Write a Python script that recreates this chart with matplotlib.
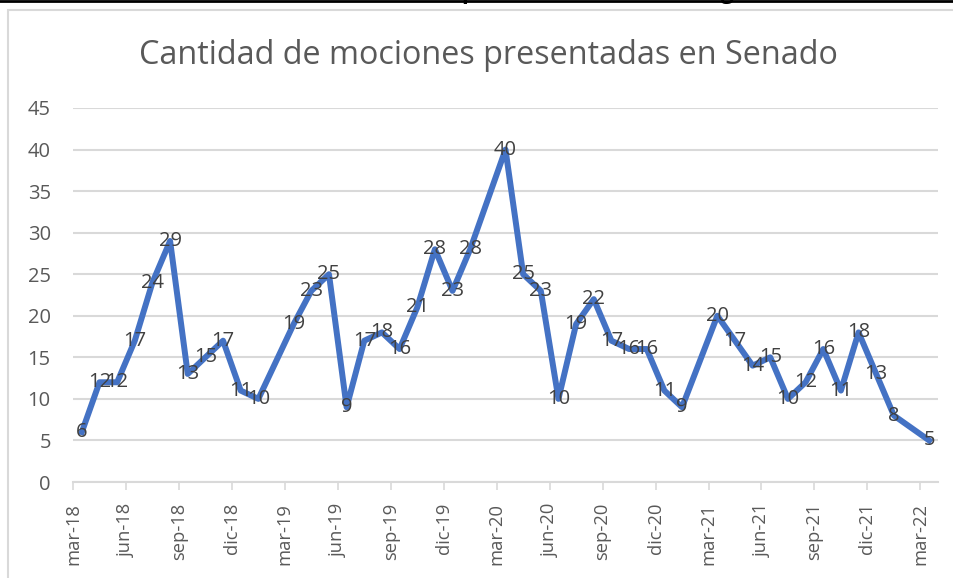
import pandas as pd
import matplotlib
matplotlib.use("Agg")
import matplotlib.pyplot as plt
from matplotlib.patches import Rectangle

# --- DATA (febrero sin datos: receso legislativo) ---
meses = ["mar-18", "abr-18", "may-18", "jun-18", "jul-18", "ago-18", "sep-18", "oct-18", "nov-18", "dic-18",
         "ene-19", "mar-19", "abr-19", "may-19", "jun-19", "jul-19", "ago-19", "sep-19", "oct-19", "nov-19", "dic-19",
         "ene-20", "mar-20", "abr-20", "may-20", "jun-20", "jul-20", "ago-20", "sep-20", "oct-20", "nov-20", "dic-20",
         "ene-21", "mar-21", "abr-21", "may-21", "jun-21", "jul-21", "ago-21", "sep-21", "oct-21", "nov-21", "dic-21",
         "ene-22", "mar-22"]
mociones = [6, 12, 12, 17, 24, 29, 13, 15, 17, 11,
            10, 19, 23, 25, 9, 17, 18, 16, 21, 28, 23,
            28, 40, 25, 23, 10, 19, 22, 17, 16, 16, 11,
            9, 20, 17, 14, 15, 10, 12, 16, 11, 18, 13,
            8, 5]
tick_labels = ["mar-18", "jun-18", "sep-18", "dic-18", "mar-19", "jun-19", "sep-19", "dic-19",
               "mar-20", "jun-20", "sep-20", "dic-20", "mar-21", "jun-21", "sep-21", "dic-21", "mar-22"]

MES = {"ene": 1, "feb": 2, "mar": 3, "abr": 4, "may": 5, "jun": 6, "jul": 7,
       "ago": 8, "sep": 9, "oct": 10, "nov": 11, "dic": 12}


def mes_idx(s):
    m, y = s.split("-")
    return (int(y) - 18) * 12 + MES[m] - 3


x = [mes_idx(m) + 0.5 for m in meses]   # puntos en el centro del mes
ticks = [mes_idx(t) for t in tick_labels]

FONT = "Open Sans"
GRAY = "#595959"
FS = 14.5

fig = plt.figure(figsize=(9.54, 5.78), dpi=100)

# marco del gráfico (recortado a la derecha y abajo)
fig.patches.append(Rectangle((8 / 954, -0.1), 1.2, 1 - 10 / 578 + 0.1, transform=fig.transFigure,
                             fill=False, edgecolor="#d9d9d9", linewidth=1.5))
# línea negra superior y restos de texto cortado
fig.add_artist(plt.Line2D([0, 1], [1 - 1 / 578, 1 - 1 / 578], transform=fig.transFigure,
                          color="black", linewidth=2))
fig.text(468 / 954, 1 + 1 / 578, "p", ha="center", va="baseline", fontsize=16,
         fontweight="bold", family=FONT, color="black")
fig.text(727 / 954, 1 + 1 / 578, "g", ha="center", va="baseline", fontsize=16,
         fontweight="bold", family=FONT, color="black")

ax = fig.add_axes([73 / 954, 1 - 482 / 578, (938 - 73) / 954, (482 - 108) / 578])

ax.plot(x, mociones, color="#4472C4", linewidth=4.3, solid_joinstyle="round", zorder=3)
for xi, v in zip(x, mociones):
    ax.text(xi, v, str(v), ha="center", va="center", fontsize=FS, family=FONT,
            color="#404040", zorder=4)

ax.set_xlim(0, 49)
ax.set_ylim(0, 45)
ax.set_yticks(range(0, 46, 5))
ax.set_xticks(ticks)
ax.set_xticklabels(tick_labels, rotation=90, fontsize=13.2, family=FONT, color=GRAY)
for lbl in ax.get_yticklabels():
    lbl.set_fontsize(FS)
    lbl.set_family(FONT)
    lbl.set_color(GRAY)

ax.grid(axis="y", color="#d9d9d9", linewidth=1.5)
ax.set_axisbelow(True)
for side in ["top", "right", "left"]:
    ax.spines[side].set_visible(False)
ax.spines["bottom"].set_color("#d9d9d9")
ax.spines["bottom"].set_linewidth(1.5)
ax.tick_params(axis="x", length=6, width=1.2, color="#d9d9d9", pad=9)
ax.tick_params(axis="y", length=0, pad=16)

fig.text(488 / 954, 1 - 56 / 578, "Cantidad de mociones presentadas en Senado", ha="center", va="center",
         fontsize=23.3, family=FONT, color=GRAY)

plt.savefig("out.png", dpi=100)
